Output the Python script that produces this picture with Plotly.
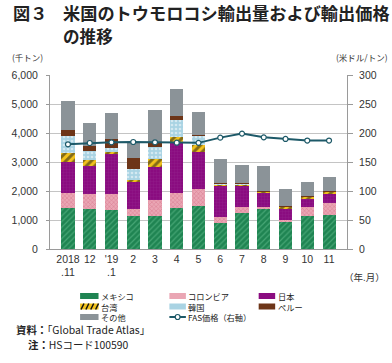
import plotly.graph_objects as go

# ---------------- data ----------------
months = ["2018<br>.11", "12", "'19<br>.1", "2", "3", "4", "5", "6", "7", "8", "9", "10", "11"]
mexico   = [1425, 1380, 1345, 1140, 1140, 1400, 1495, 886, 1253, 1368, 931, 1138, 1172]
colombia = [495, 520, 540, 240, 550, 520, 565, 207, 184, 92, 69, 299, 426]
japan    = [1090, 960, 1380, 940, 1125, 1780, 1300, 1077, 746, 471, 402, 310, 322]
taiwan   = [290, 210, 80, 60, 285, 175, 230, 70, 57, 46, 58, 58, 46]
korea    = [600, 320, 125, 370, 405, 575, 310, 20, 10, 8, 10, 7, 9]
peru     = [200, 160, 320, 400, 135, 140, 30, 20, 15, 15, 10, 8, 10]
other    = [1000, 780, 900, 550, 1150, 930, 780, 813, 632, 862, 578, 502, 487]
fas_price = [180.5, 182.8, 184, 184.5, 184, 183.3, 183, 192, 199, 192.5, 189.7, 187, 187]

series_names = ["メキシコ", "コロンビア", "日本", "台湾", "韓国", "ペルー", "その他"]
fas_name = "FAS価格（右軸）"
left_ticks = [0, 1000, 2000, 3000, 4000, 5000, 6000]
right_ticks = [0, 50, 100, 150, 200, 250, 300]

# ---------------- geometry helpers ----------------
W, H = 392, 363
L, R, T, B = 41, 347, 75, 249


def PX(x):
    return (x - L) / (R - L)


def PY(y):
    return (B - y) / (B - T)


JP = "Noto Sans CJK JP"
NUM = "Liberation Sans, Arial"

styles = [
    dict(color="#1f8452", pattern=dict(shape="/", fgcolor="#6cc596", size=4, solidity=0.3, fillmode="overlay")),
    dict(color="#eaa6b4", pattern=dict(shape="x", fgcolor="#c5506c", size=3, solidity=0.3, fillmode="overlay")),
    dict(color="#8a0c80", pattern=dict(shape="+", fgcolor="#a0359a", size=3, solidity=0.2, fillmode="overlay")),
    dict(color="#f2c21c", pattern=dict(shape="/", fgcolor="#111111", size=6, solidity=0.5, fillmode="overlay")),
    dict(color="#a9d3e3", pattern=dict(shape=".", fgcolor="#ffffff", size=4, solidity=0.35, fillmode="overlay")),
    dict(color="#6d3518"),
    dict(color="#8b9398"),
]
swatch_colors = ["#1f8452", "#eaa6b4", "#8a0c80", "#f2c21c", "#a9d3e3", "#6d3518", "#8b9398"]

fig = go.Figure()
for name, vals, st in zip(series_names, [mexico, colombia, japan, taiwan, korea, peru, other], styles):
    fig.add_trace(go.Bar(x=months, y=vals, name=name, marker=dict(line=dict(width=0), **st),
                         showlegend=False))

fig.add_trace(go.Scatter(x=months, y=fas_price, name=fas_name, yaxis="y2", mode="lines+markers",
                         line=dict(color="#1d5968", width=2),
                         marker=dict(symbol="circle", size=5, color="white", line=dict(color="#1d5968", width=1.2)),
                         showlegend=False))

fig.update_layout(
    width=W, height=H,
    margin=dict(l=L, r=W - R, t=T, b=H - B),
    paper_bgcolor="white", plot_bgcolor="white",
    barmode="stack", bargap=0.4,
    font=dict(family=NUM, size=10, color="#333333"),
    xaxis=dict(type="category", showgrid=False, showline=True, linecolor="#9a9a9a", linewidth=1,
               ticks="", tickfont=dict(family=NUM, size=10.5, color="#333333")),
    yaxis=dict(range=[0, 6000], tickvals=left_ticks, tickformat=",", showgrid=True, gridcolor="#c4c4c4",
               gridwidth=1, showline=True, linecolor="#9a9a9a", ticks="outside", ticklen=3,
               tickcolor="#9a9a9a", ticklabelstandoff=6, zeroline=False,
               tickfont=dict(family=NUM, size=10.5, color="#333333")),
    yaxis2=dict(range=[0, 300], tickvals=right_ticks, overlaying="y", side="right", showgrid=False,
                showline=True, linecolor="#9a9a9a", ticks="outside", ticklen=5, tickcolor="#9a9a9a",
                ticklabelstandoff=4, zeroline=False,
                tickfont=dict(family=NUM, size=10.5, color="#333333")),
)

ann = []


def text(x, y, s, size, anchor="left", family=JP, color="#222222", yanchor="middle"):
    ann.append(dict(x=PX(x), y=PY(y), xref="paper", yref="paper", text=s, showarrow=False,
                    xanchor=anchor, yanchor=yanchor, align="left",
                    font=dict(family=family, size=size, color=color)))


# title
text(1, 12, "<b>図３</b>", 17.2)
text(52, 12, "<b>米国のトウモロコシ輸出量および輸出価格</b>", 17.2)
text(52, 36, "<b>の推移</b>", 16.6)
# units
text(0, 57, "(千トン)", 8.5, color="#333333")
text(391, 57, "(米ドル/トン)", 8.5, anchor="right", color="#333333")
text(342, 277, "（年.月）", 9.5, color="#333333")

# legend (manual, three columns)
shapes = []
cols = [72, 164, 256]
text_x = [92, 182, 275]
rows = [296, 306.5, 317]
legend_pos = [(0, 0), (1, 0), (2, 0), (0, 1), (1, 1), (2, 1), (0, 2)]
col_labels = [[], [], []]
for i, (c, r) in enumerate(legend_pos):
    x0 = cols[c]
    x1 = x0 + (19 if c == 0 else 17)
    y = rows[r]
    shapes.append(dict(type="rect", xref="paper", yref="paper", x0=PX(x0), x1=PX(x1), y0=PY(y + 3), y1=PY(y - 3),
                       fillcolor=swatch_colors[i], line=dict(width=0)))
    if i == 3:
        for k in range(4):
            sx = x0 + 1 + k * 5
            shapes.append(dict(type="line", xref="paper", yref="paper", x0=PX(sx), x1=PX(sx + 3),
                               y0=PY(y + 3), y1=PY(y - 3), line=dict(color="#111111", width=1.5)))
    col_labels[c].append(series_names[i])

# FAS legend entry
fy = rows[2]
shapes.append(dict(type="line", xref="paper", yref="paper", x0=PX(164), x1=PX(181), y0=PY(fy), y1=PY(fy),
                   line=dict(color="#1d5968", width=2)))
shapes.append(dict(type="circle", xref="paper", yref="paper", x0=PX(170), x1=PX(175), y0=PY(fy + 2.5),
                   y1=PY(fy - 2.5), fillcolor="white", line=dict(color="#1d5968", width=1.2)))
col_labels[1].append(fas_name)

for c in range(3):
    n = len(col_labels[c])
    ymid = (rows[0] + rows[n - 1]) / 2
    text(text_x[c] - 1, ymid, "<br>".join(col_labels[c]), 8.2)

# sources
text(4, 329, "<b>資料：</b>「Global Trade Atlas」", 10.4)
text(16, 344.5, "<b>注：</b>HSコード100590", 10.4)

fig.update_layout(annotations=ann, shapes=shapes)
fig.write_html("out.html", config={"displayModeBar": False},
               post_script="document.body.style.margin='0';document.body.style.padding='0';")
